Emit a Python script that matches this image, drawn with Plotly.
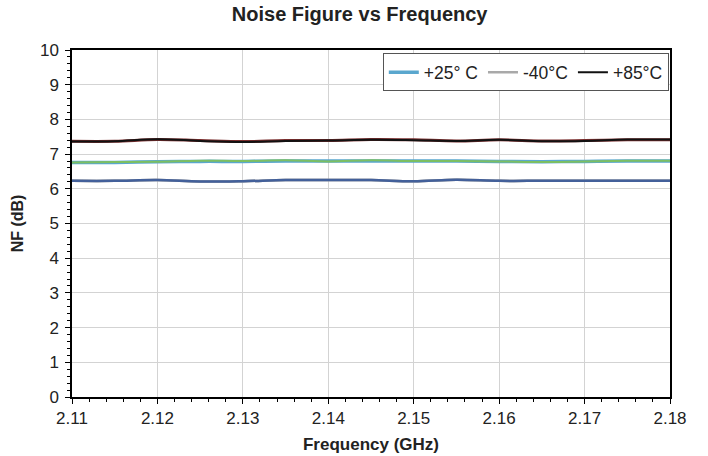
import plotly.graph_objects as go

freq = [2.110, 2.115, 2.120, 2.125, 2.130, 2.135, 2.140, 2.145, 2.150, 2.155, 2.160, 2.165, 2.170, 2.175, 2.180]

nf_p25 = [6.76, 6.76, 6.78, 6.79, 6.79, 6.80, 6.80, 6.80, 6.80, 6.80, 6.79, 6.78, 6.79, 6.80, 6.80]
nf_p25_b = [6.76, 6.77, 6.78, 6.81, 6.80, 6.82, 6.79, 6.82, 6.80, 6.80, 6.79, 6.77, 6.79, 6.81, 6.81]
nf_m40 = [6.23, 6.23, 6.25, 6.21, 6.22, 6.25, 6.25, 6.25, 6.22, 6.26, 6.23, 6.23, 6.23, 6.23, 6.23]
nf_m40_b = [6.23, 6.23, 6.25, 6.21, 6.22, 6.25, 6.25, 6.25, 6.22, 6.26, 6.23, 6.23, 6.23, 6.23, 6.23]
nf_p85 = [7.36, 7.37, 7.43, 7.38, 7.35, 7.38, 7.39, 7.41, 7.40, 7.38, 7.41, 7.37, 7.38, 7.42, 7.42]
nf_p85_b = [7.37, 7.37, 7.42, 7.39, 7.36, 7.39, 7.39, 7.42, 7.41, 7.38, 7.41, 7.38, 7.39, 7.41, 7.41]

x_ticks = [2.11, 2.12, 2.13, 2.14, 2.15, 2.16, 2.17, 2.18]
x_tick_text = ["2.11", "2.12", "2.13", "2.14", "2.15", "2.16", "2.17", "2.18"]
y_ticks = list(range(0, 11))

fig = go.Figure()

fig.add_trace(go.Scatter(x=freq, y=nf_m40_b, mode="lines", showlegend=False,
                         line=dict(color="#A9A9A9", width=2.5, shape="spline")))
fig.add_trace(go.Scatter(x=freq, y=nf_p25, mode="lines", name="+25° C",
                         line=dict(color="#5AA7CE", width=3.5, shape="spline")))
fig.add_trace(go.Scatter(x=freq, y=nf_p25_b, mode="lines", showlegend=False,
                         line=dict(color="#7CBF62", width=2, shape="spline")))
fig.add_trace(go.Scatter(x=freq, y=nf_m40, mode="lines", name="-40°C",
                         line=dict(color="#A9A9A9", width=2.5, shape="spline")))
fig.add_trace(go.Scatter(x=freq, y=nf_m40_b, mode="lines", showlegend=False,
                         line=dict(color="#43609A", width=2.5, shape="spline")))
fig.add_trace(go.Scatter(x=freq, y=nf_p85_b, mode="lines", showlegend=False,
                         line=dict(color="#7A2E2E", width=3, shape="spline")))
fig.add_trace(go.Scatter(x=freq, y=nf_p85, mode="lines", name="+85°C",
                         line=dict(color="#111111", width=2, shape="spline")))

fig.update_layout(
    width=708, height=456,
    margin=dict(l=72, r=38, t=50, b=59),
    paper_bgcolor="white", plot_bgcolor="white",
    font=dict(family="Liberation Sans, Arial, sans-serif", color="#222222", size=16),
    title=dict(text="<b>Noise Figure vs Frequency</b>", x=0.508, xanchor="center",
               xref="container", y=0.97, yanchor="middle",
               font=dict(size=20, family="Liberation Sans, Arial")),
    legend=dict(orientation="h", x=0.998, xanchor="right", y=0.99, yanchor="top",
                bgcolor="white", bordercolor="#555555", borderwidth=1,
                font=dict(size=17.5), itemwidth=30, tracegroupgap=0),
    xaxis=dict(range=[2.11, 2.18], tickvals=x_ticks, ticktext=x_tick_text,
               automargin=False,
               showgrid=True, gridcolor="#D3D3D3", gridwidth=1,
               showline=True, linecolor="black", linewidth=1.5, mirror=True,
               ticks="outside", ticklen=5, tickcolor="black",
               minor=dict(dtick=0.002, ticks="outside", ticklen=3, tickcolor="black", showgrid=False),
               tickfont=dict(size=17),
               title=dict(text="<b>Frequency (GHz)</b>", standoff=11,
                          font=dict(size=17, family="Liberation Sans, Arial")),
               zeroline=False),
    yaxis=dict(range=[0, 10], tickvals=y_ticks, automargin=False,
               showgrid=True, gridcolor="#D3D3D3", gridwidth=1,
               showline=True, linecolor="black", linewidth=1.5, mirror=True,
               ticks="outside", ticklen=5, tickcolor="black", ticklabelstandoff=3,
               minor=dict(dtick=0.2, ticks="outside", ticklen=3, tickcolor="black", showgrid=False),
               tickfont=dict(size=17),
               title=dict(text="<b>NF (dB)</b>", standoff=12,
                          font=dict(size=16, family="Liberation Sans, Arial")),
               zeroline=False),
)

fig.write_html("out.html", config={"displayModeBar": False},
               post_script="document.body.style.margin='0';")
